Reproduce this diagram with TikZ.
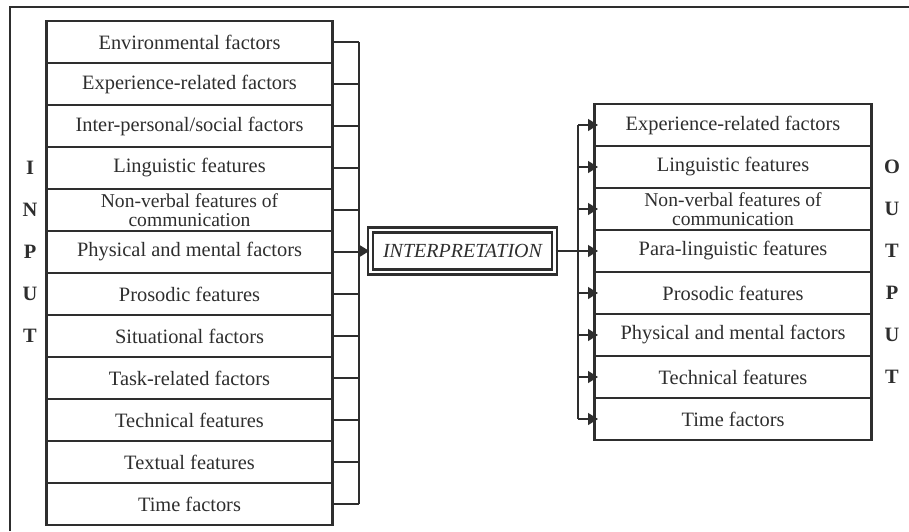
\documentclass[tikz,border=0pt]{standalone}
\usepackage{fontspec}
\setmainfont{Liberation Serif}
\usepackage{tikz}
\usetikzlibrary{arrows.meta}
\definecolor{ink}{HTML}{2E2E2E}
\tikzset{factor/.style={rectangle,draw=ink,line width=1.4pt,minimum height=21pt,inner sep=0pt,align=center,text=ink,font=\fontsize{10.2}{10}\selectfont}}
\tikzset{inbox/.style={factor,minimum width=143.1pt}}
\tikzset{outbox/.style={factor,minimum width=138.6pt}}
\tikzset{twoline/.style={font=\fontsize{9.8}{9.6}\selectfont}}
\tikzset{interpbox/.style={rectangle,draw=ink,line width=1.2pt,double=white,double distance=1.3pt,minimum width=92pt,minimum height=21pt,inner sep=0pt,text=ink,font=\fontsize{10}{12}\selectfont\itshape}}
\tikzset{sideletter/.style={text=ink,font=\fontsize{10.2}{12}\selectfont\bfseries}}
\tikzset{conn/.style={draw=ink,line width=0.65pt}}
\tikzset{feed/.style={conn,-{Triangle[length=5pt,width=6pt]},shorten >=-2.5pt}}

\begin{document}
\begin{tikzpicture}[x=0.5pt,y=-0.5pt]
    \useasboundingbox (0,0) rectangle (909,531);
    \draw[ink,line width=1.1pt] (10,531) -- (10,7) -- (909,7);
    \coordinate (lbus) at (359,0);
    \coordinate (rbus) at (578,0);
    % input side
    \node[inbox] (in1) at (189.5,42) {Environmental factors};
    \node[inbox] (in2) at (189.5,84) {Experience-related factors};
    \node[inbox] (in3) at (189.5,126) {Inter-personal/social factors};
    \node[inbox] (in4) at (189.5,168) {Linguistic features};
    \node[inbox,twoline] (in5) at (189.5,210) {Non-verbal features of\\communication};
    \node[inbox] (in6) at (189.5,252) {Physical and mental factors};
    \node[inbox] (in7) at (189.5,294) {Prosodic features};
    \node[inbox] (in8) at (189.5,336) {Situational factors};
    \node[inbox] (in9) at (189.5,378) {Task-related factors};
    \node[inbox] (in10) at (189.5,420) {Technical features};
    \node[inbox] (in11) at (189.5,462) {Textual features};
    \node[inbox] (in12) at (189.5,504) {Time factors};
    \node[sideletter] (li1) at (30,168) {I};
    \node[sideletter] (li2) at (30,210) {N};
    \node[sideletter] (li3) at (30,252) {P};
    \node[sideletter] (li4) at (30,294) {U};
    \node[sideletter] (li5) at (30,336) {T};
    % middle
    \node[interpbox] (interp) at (462.5,251) {INTERPRETATION};
    % output side
    \node[outbox] (out1) at (733,125) {Experience-related factors};
    \node[outbox] (out2) at (733,167) {Linguistic features};
    \node[outbox,twoline] (out3) at (733,209) {Non-verbal features of\\communication};
    \node[outbox] (out4) at (733,251) {Para-linguistic features};
    \node[outbox] (out5) at (733,293) {Prosodic features};
    \node[outbox] (out6) at (733,335) {Physical and mental factors};
    \node[outbox] (out7) at (733,377) {Technical features};
    \node[outbox] (out8) at (733,419) {Time factors};
    \node[sideletter] (lo1) at (892,167) {O};
    \node[sideletter] (lo2) at (892,209) {U};
    \node[sideletter] (lo3) at (892,251) {T};
    \node[sideletter] (lo4) at (892,293) {P};
    \node[sideletter] (lo5) at (892,335) {U};
    \node[sideletter] (lo6) at (892,377) {T};
    % connectors
    \draw[conn] (in1.east) -- (in1.east -| lbus);
    \draw[conn] (in2.east) -- (in2.east -| lbus);
    \draw[conn] (in3.east) -- (in3.east -| lbus);
    \draw[conn] (in4.east) -- (in4.east -| lbus);
    \draw[conn] (in5.east) -- (in5.east -| lbus);
    \draw[conn] (in6.east) -- (in6.east -| lbus);
    \draw[conn] (in7.east) -- (in7.east -| lbus);
    \draw[conn] (in8.east) -- (in8.east -| lbus);
    \draw[conn] (in9.east) -- (in9.east -| lbus);
    \draw[conn] (in10.east) -- (in10.east -| lbus);
    \draw[conn] (in11.east) -- (in11.east -| lbus);
    \draw[conn] (in12.east) -- (in12.east -| lbus);
    \draw[conn] (in1.east -| lbus) -- (in12.east -| lbus);
    \draw[feed,shorten >=0pt] (interp.west -| lbus) -- (interp.west);
    \draw[conn] (interp.east) -- (interp.east -| rbus);
    \draw[conn] (out1.west -| rbus) -- (out8.west -| rbus);
    \draw[feed] (out1.west -| rbus) -- (out1.west);
    \draw[feed] (out2.west -| rbus) -- (out2.west);
    \draw[feed] (out3.west -| rbus) -- (out3.west);
    \draw[feed] (out4.west -| rbus) -- (out4.west);
    \draw[feed] (out5.west -| rbus) -- (out5.west);
    \draw[feed] (out6.west -| rbus) -- (out6.west);
    \draw[feed] (out7.west -| rbus) -- (out7.west);
    \draw[feed] (out8.west -| rbus) -- (out8.west);
\end{tikzpicture}
\end{document}
